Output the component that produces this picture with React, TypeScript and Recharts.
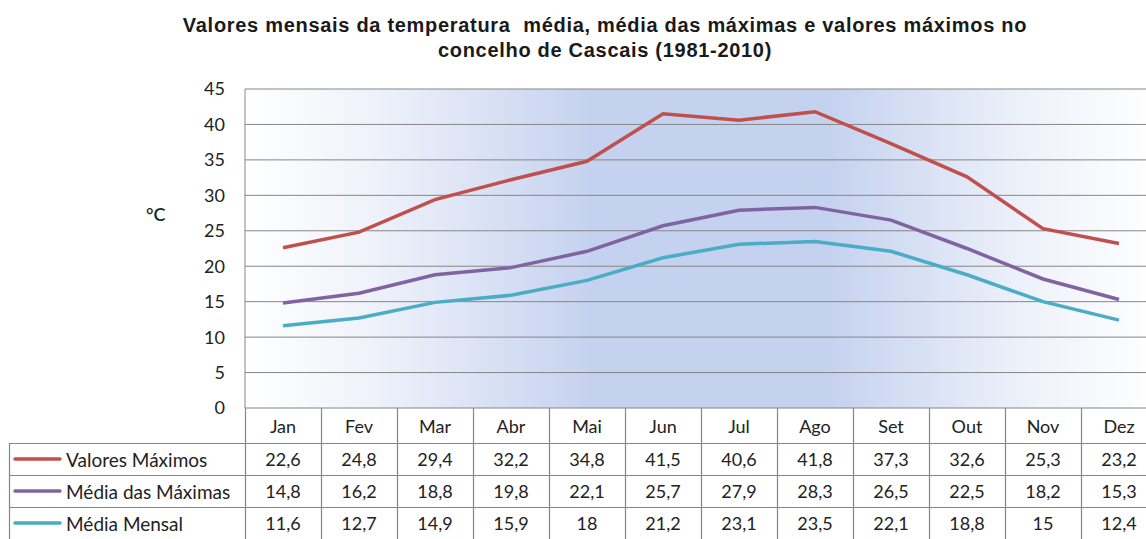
import React from "react";
import { LineChart, Line, XAxis, YAxis, CartesianGrid } from "recharts";

const months = ["Jan", "Fev", "Mar", "Abr", "Mai", "Jun", "Jul", "Ago", "Set", "Out", "Nov", "Dez"];
const valoresMaximos = [22.6, 24.8, 29.4, 32.2, 34.8, 41.5, 40.6, 41.8, 37.3, 32.6, 25.3, 23.2];
const mediaDasMaximas = [14.8, 16.2, 18.8, 19.8, 22.1, 25.7, 27.9, 28.3, 26.5, 22.5, 18.2, 15.3];
const mediaMensal = [11.6, 12.7, 14.9, 15.9, 18, 21.2, 23.1, 23.5, 22.1, 18.8, 15, 12.4];
const yTicks = [0, 5, 10, 15, 20, 25, 30, 35, 40, 45];

const series = [
  { key: "max", name: "Valores Máximos", color: "#c0504d", values: valoresMaximos },
  { key: "medMax", name: "Média das Máximas", color: "#8064a2", values: mediaDasMaximas },
  { key: "med", name: "Média Mensal", color: "#4bacc6", values: mediaMensal },
];

const data = months.map((m, i) => {
  const row: Record<string, string | number> = { month: m };
  series.forEach((s) => (row[s.key] = s.values[i]));
  return row;
});

// layout (px)
const PLOT_LEFT = 245;
const PLOT_TOP = 89;
const PLOT_BOTTOM = 408;
const COL_W = 76;
const ROW_TOPS = [408, 443, 475, 507, 539];
const GRID = "#868686";
const FONT = "Lato, 'Open Sans', sans-serif";

const fmt = (v: number) => String(v).replace(".", ",");

export default function App() {
  const chartW = PLOT_LEFT + COL_W * 12;
  const cellText: React.CSSProperties = {
    position: "absolute",
    fontFamily: FONT,
    fontSize: 18,
    color: "#222",
    display: "flex",
    alignItems: "center",
    justifyContent: "center",
  };

  return (
    <div
      style={{
        position: "fixed",
        left: 0,
        top: 0,
        width: 1146,
        height: 539,
        overflow: "hidden",
        background: "#fff",
      }}
    >
      {/* Title */}
      <div
        style={{
          position: "absolute",
          left: 105,
          width: 1000,
          top: 13,
          textAlign: "center",
          fontFamily: "'Liberation Sans', Arial, sans-serif",
          fontWeight: "bold",
          fontSize: 20,
          letterSpacing: 0.7,
          lineHeight: "25px",
          color: "#1a1a1a",
          whiteSpace: "nowrap",
        }}
      >
        Valores mensais da temperatura&nbsp; média, média das máximas e valores máximos no
        <br />
        concelho de Cascais (1981-2010)
      </div>

      {/* Y axis unit */}
      <div
        style={{
          position: "absolute",
          left: 146,
          top: 203,
          fontFamily: FONT,
          fontSize: 18,
          fontWeight: 600,
          color: "#222",
        }}
      >
        °C
      </div>

      <div style={{ position: "absolute", left: 0, top: 0 }}>
        <LineChart
          width={chartW}
          height={PLOT_BOTTOM + 10}
          data={data}
          margin={{ top: PLOT_TOP, right: 0, bottom: 10, left: PLOT_LEFT - 60 }}
        >
          <defs>
            <linearGradient id="plotBg" x1="0" y1="0" x2="1" y2="0">
              <stop offset="0" stopColor="#ffffff" />
              <stop offset="0.14" stopColor="#eff2fa" />
              <stop offset="0.38" stopColor="#c5d2ef" />
              <stop offset="0.64" stopColor="#c5d2ef" />
              <stop offset="0.86" stopColor="#eef2fa" />
              <stop offset="1" stopColor="#ffffff" />
            </linearGradient>
          </defs>
          <CartesianGrid vertical={false} stroke={GRID} fill="url(#plotBg)" fillOpacity={1} />
          <XAxis dataKey="month" hide padding={{ left: COL_W / 2, right: COL_W / 2 }} />
          <YAxis
            width={60}
            domain={[0, 45]}
            ticks={yTicks}
            interval={0}
            tickLine={false}
            tickSize={0}
            tickMargin={20}
            axisLine={{ stroke: GRID }}
            tick={{ fontFamily: FONT, fontSize: 18, fill: "#222" }}
          />
          {series.map((s) => (
            <Line
              key={s.key}
              dataKey={s.key}
              name={s.name}
              stroke={s.color}
              strokeWidth={3.5}
              dot={false}
              type="linear"
              isAnimationActive={false}
            />
          ))}
        </LineChart>
      </div>

      {/* Data table */}
      <svg
        width={chartW}
        height={539}
        style={{ position: "absolute", left: 0, top: 0, pointerEvents: "none" }}
      >
        {ROW_TOPS.slice(1).map((y, i) => (
          <line key={"h" + i} x1={9} x2={chartW} y1={y + 0.5} y2={y + 0.5} stroke={GRID} strokeWidth={1.2} />
        ))}
        {months.map((_, i) => (
          <line
            key={"v" + i}
            x1={PLOT_LEFT + i * COL_W + 0.5}
            x2={PLOT_LEFT + i * COL_W + 0.5}
            y1={PLOT_BOTTOM}
            y2={539}
            stroke={GRID}
            strokeWidth={1.2}
          />
        ))}
        <line x1={9.5} x2={9.5} y1={ROW_TOPS[1]} y2={539} stroke={GRID} strokeWidth={1.2} />
        {series.map((s, r) => {
          const cy = (ROW_TOPS[r + 1] + ROW_TOPS[r + 2]) / 2;
          return (
            <line key={"k" + s.key} x1={15} x2={60} y1={cy} y2={cy} stroke={s.color} strokeWidth={3.5} strokeLinecap="round" />
          );
        })}
      </svg>

      {/* month header */}
      {months.map((m, i) => (
        <div
          key={"m" + m}
          style={{
            ...cellText,
            left: PLOT_LEFT + i * COL_W,
            top: ROW_TOPS[0],
            width: COL_W,
            height: ROW_TOPS[1] - ROW_TOPS[0],
          }}
        >
          {m}
        </div>
      ))}

      {/* series rows */}
      {series.map((s, r) => (
        <React.Fragment key={"r" + s.key}>
          <div
            style={{
              ...cellText,
              fontSize: 19,
              justifyContent: "flex-start",
              left: 66,
              top: ROW_TOPS[r + 1],
              width: 180,
              height: ROW_TOPS[r + 2] - ROW_TOPS[r + 1],
            }}
          >
            {s.name}
          </div>
          {s.values.map((v, i) => (
            <div
              key={s.key + i}
              style={{
                ...cellText,
                left: PLOT_LEFT + i * COL_W,
                top: ROW_TOPS[r + 1],
                width: COL_W,
                height: ROW_TOPS[r + 2] - ROW_TOPS[r + 1],
              }}
            >
              {fmt(v)}
            </div>
          ))}
        </React.Fragment>
      ))}
    </div>
  );
}
